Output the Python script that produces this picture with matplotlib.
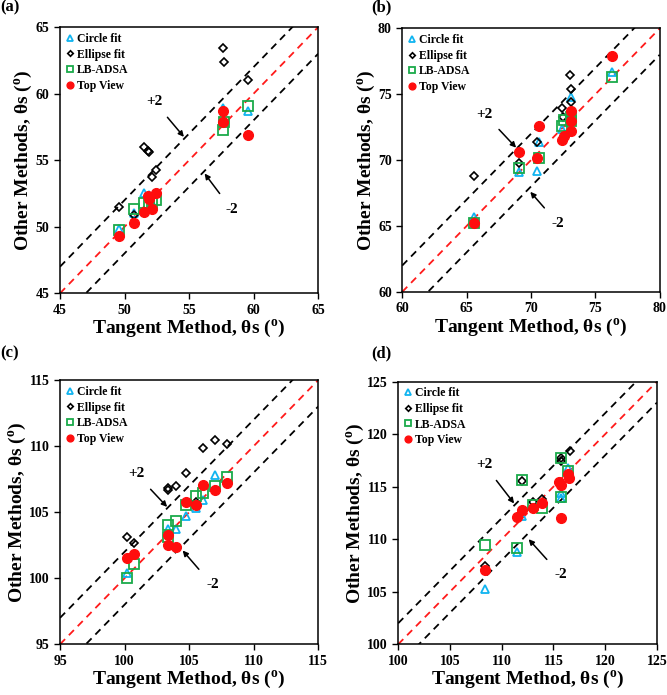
"""
Contact angle comparison: Other methods vs Tangent method, 4 panels (a)-(d).
"""
import matplotlib
matplotlib.use("Agg")
import matplotlib.pyplot as plt

plt.rcParams["font.family"] = ["Liberation Serif", "DejaVu Serif"]
plt.rcParams["font.weight"] = "bold"
plt.rcParams["axes.labelweight"] = "bold"
plt.rcParams["mathtext.fontset"] = "custom"
plt.rcParams["mathtext.rm"] = "Liberation Serif:bold"
plt.rcParams["mathtext.bf"] = "Liberation Serif:bold"
plt.rcParams["mathtext.it"] = "Liberation Serif:bold"

# =============================================================================
# Data
# =============================================================================

# (a)
circle_a_x = [49.6, 50.7, 51.5, 51.9, 52.1, 52.4, 57.6, 59.6]
circle_a_y = [49.8, 51.0, 52.5, 52.4, 51.8, 52.5, 58.9, 58.7]
ellipse_a_x = [49.6, 50.7, 51.5, 51.9, 51.8, 52.1, 52.4, 57.6, 57.7, 59.6]
ellipse_a_y = [51.5, 50.9, 56.0, 55.6, 55.7, 53.75, 54.3, 63.4, 62.4, 61.0]
lb_a_x = [49.6, 50.7, 51.5, 51.9, 52.1, 52.4, 57.6, 57.7, 59.6]
lb_a_y = [49.75, 51.3, 51.8, 51.7, 51.75, 52.0, 57.3, 57.9, 59.1]
top_a_x = [49.6, 50.7, 51.5, 51.8, 51.9, 52.1, 52.4, 57.6, 57.6, 59.6]
top_a_y = [49.3, 50.3, 51.1, 52.3, 52.1, 51.3, 52.5, 58.7, 57.9, 56.9]

# (b)
circle_b_x = [65.6, 69.1, 70.5, 70.6, 72.4, 73.1, 76.3]
circle_b_y = [65.7, 69.1, 69.2, 71.35, 72.4, 74.8, 76.7]
ellipse_b_x = [65.6, 69.1, 70.5, 70.6, 72.4, 72.5, 73.0, 73.1, 73.1]
ellipse_b_y = [68.8, 69.8, 71.35, 72.6, 74.0, 73.3, 76.5, 75.4, 74.45]
lb_b_x = [65.6, 69.1, 70.6, 72.4, 72.6, 73.1, 73.1, 76.3]
lb_b_y = [65.2, 69.4, 70.2, 72.6, 73.05, 73.25, 72.95, 76.3]
top_b_x = [65.6, 69.1, 70.6, 70.5, 72.4, 72.6, 73.1, 73.1, 73.1, 76.3]
top_b_y = [65.2, 70.6, 72.6, 70.2, 71.5, 71.8, 72.2, 73.0, 73.7, 77.9]

# (c)
circle_c_x = [100.2, 103.4, 104.0, 104.75, 105.5, 106.1, 107.0]
circle_c_y = [100.4, 103.7, 103.7, 104.75, 105.3, 105.9, 107.8]
ellipse_c_x = [100.2, 100.7, 103.4, 103.4, 104.0, 104.75, 105.5, 106.1, 107.0, 107.9]
ellipse_c_y = [103.1, 102.7, 106.8, 106.65, 106.95, 107.95, 105.8, 109.9, 110.5, 110.15]
lb_c_x = [100.2, 100.7, 103.4, 103.4, 104.0, 104.75, 105.5, 106.1, 107.0, 107.9]
lb_c_y = [100.0, 101.05, 104.05, 103.1, 104.3, 105.55, 106.25, 106.45, 106.95, 107.65]
top_c_x = [100.2, 100.7, 103.4, 103.4, 104.0, 104.75, 105.5, 106.1, 107.0, 107.9]
top_c_y = [101.5, 101.85, 103.25, 102.55, 102.35, 105.75, 105.55, 107.05, 106.65, 107.2]

# (d)
circle_d_x = [108.4, 111.45, 112.0, 115.75, 115.75, 116.45]
circle_d_y = [105.3, 108.8, 112.2, 114.35, 113.9, 116.8]
ellipse_d_x = [108.4, 112.0, 113.0, 113.85, 115.75, 115.75, 116.6]
ellipse_d_y = [107.45, 115.5, 113.55, 113.8, 117.7, 117.4, 118.4]
lb_d_x = [108.4, 111.45, 112.0, 113.0, 113.85, 115.75, 115.75, 116.45]
lb_d_y = [109.45, 109.15, 115.6, 113.25, 113.0, 117.7, 114.0, 116.5]
top_d_x = [108.4, 111.5, 112.0, 113.0, 113.85, 115.5, 115.75, 115.75, 116.45, 116.5]
top_d_y = [107.05, 112.15, 112.75, 113.0, 113.4, 115.4, 115.15, 112.05, 116.25, 115.85]

PANELS = [
    dict(tag="(a)", lim=(45, 65), step=5,
         circle=(circle_a_x, circle_a_y), ellipse=(ellipse_a_x, ellipse_a_y),
         lb=(lb_a_x, lb_a_y), top=(top_a_x, top_a_y),
         plus=((54.6, 56.75), (52.3, 59.4)), minus=((56.2, 54.0), (58.3, 51.3))),
    dict(tag="(b)", lim=(60, 80), step=5,
         circle=(circle_b_x, circle_b_y), ellipse=(ellipse_b_x, ellipse_b_y),
         lb=(lb_b_x, lb_b_y), top=(top_b_x, top_b_y),
         plus=((68.85, 70.95), (66.4, 73.5)), minus=((69.95, 67.6), (72.1, 65.2))),
    dict(tag="(c)", lim=(95, 115), step=5,
         circle=(circle_c_x, circle_c_y), ellipse=(ellipse_c_x, ellipse_c_y),
         lb=(lb_c_x, lb_c_y), top=(top_c_x, top_c_y),
         plus=((103.3, 105.4), (100.9, 107.9)), minus=((104.5, 102.1), (106.8, 99.5))),
    dict(tag="(d)", lim=(100, 125), step=5,
         circle=(circle_d_x, circle_d_y), ellipse=(ellipse_d_x, ellipse_d_y),
         lb=(lb_d_x, lb_d_y), top=(top_d_x, top_d_y),
         plus=((111.2, 113.4), (108.3, 117.1)), minus=((112.6, 110.0), (115.7, 106.6))),
]

# axes rectangles in figure fractions
RECTS = [
    [0.090, 0.578, 0.387, 0.383],
    [0.603, 0.580, 0.386, 0.379],
    [0.090, 0.073, 0.387, 0.380],
    [0.597, 0.073, 0.388, 0.378],
]
TAG_POS = [(0.001, 0.990), (0.557, 0.990), (0.001, 0.492), (0.557, 0.492)]

XLABEL = r"Tangent Method, θs ($^{\rm o}$)"
YLABEL = r"Other Methods, θs ($^{\rm o}$)"


def draw_panel(ax, p):
    lo, hi = p["lim"]
    ref = [lo, hi]
    ax.plot(ref, [lo + 2, hi + 2], color="black", ls=(0, (4, 3)), lw=1.3)
    ax.plot(ref, [lo - 2, hi - 2], color="black", ls=(0, (4, 3)), lw=1.3)
    ax.plot(ref, ref, color="#ff1a1a", ls=(0, (4, 3)), lw=1.3)

    ax.plot(*p["circle"], ls="none", marker="^", ms=5.5, mfc="none",
            mec="#10b4f0", mew=1.3, label="Circle fit")
    ax.plot(*p["ellipse"], ls="none", marker="D", ms=4, mfc="none",
            mec="black", mew=1.2, label="Ellipse fit")
    ax.plot(*p["lb"], ls="none", marker="s", ms=6.5, mfc="none",
            mec="#1aaa4a", mew=1.3, label="LB-ADSA")
    ax.plot(*p["top"], ls="none", marker="o", ms=7, color="#ff0d0d",
            label="Top View")

    ax.set_xlim(lo, hi)
    ax.set_ylim(lo, hi)
    ticks = list(range(lo, hi + 1, p["step"]))
    ax.set_xticks(ticks)
    ax.set_yticks(ticks)
    ax.tick_params(direction="out", length=4, width=1, labelsize=10)
    for s in ax.spines.values():
        s.set_linewidth(1.1)

    arrow = dict(arrowstyle="-|>", color="black", lw=1.1, mutation_scale=8,
                 shrinkA=6, shrinkB=0)
    ax.annotate("+2", xy=p["plus"][0], xytext=p["plus"][1], fontsize=11,
                ha="center", va="center", arrowprops=arrow)
    ax.annotate("-2", xy=p["minus"][0], xytext=p["minus"][1], fontsize=11,
                ha="center", va="center", arrowprops=arrow)

    ax.set_xlabel(XLABEL, fontsize=14, labelpad=1)
    ax.set_ylabel(YLABEL, fontsize=14, labelpad=1)
    ax.legend(loc="upper left", frameon=False, fontsize=8.5, handlelength=0.7,
              handletextpad=0.2, labelspacing=0.3, borderaxespad=0.3,
              borderpad=0.2, markerscale=0.7)


fig = plt.figure(figsize=(6.67, 6.95), dpi=100)
for p, rect, tpos in zip(PANELS, RECTS, TAG_POS):
    ax = fig.add_axes(rect)
    draw_panel(ax, p)
    fig.text(tpos[0], tpos[1], p["tag"], fontsize=12, fontweight="bold",
             ha="left", va="center")

fig.savefig("out.png", dpi=100)
